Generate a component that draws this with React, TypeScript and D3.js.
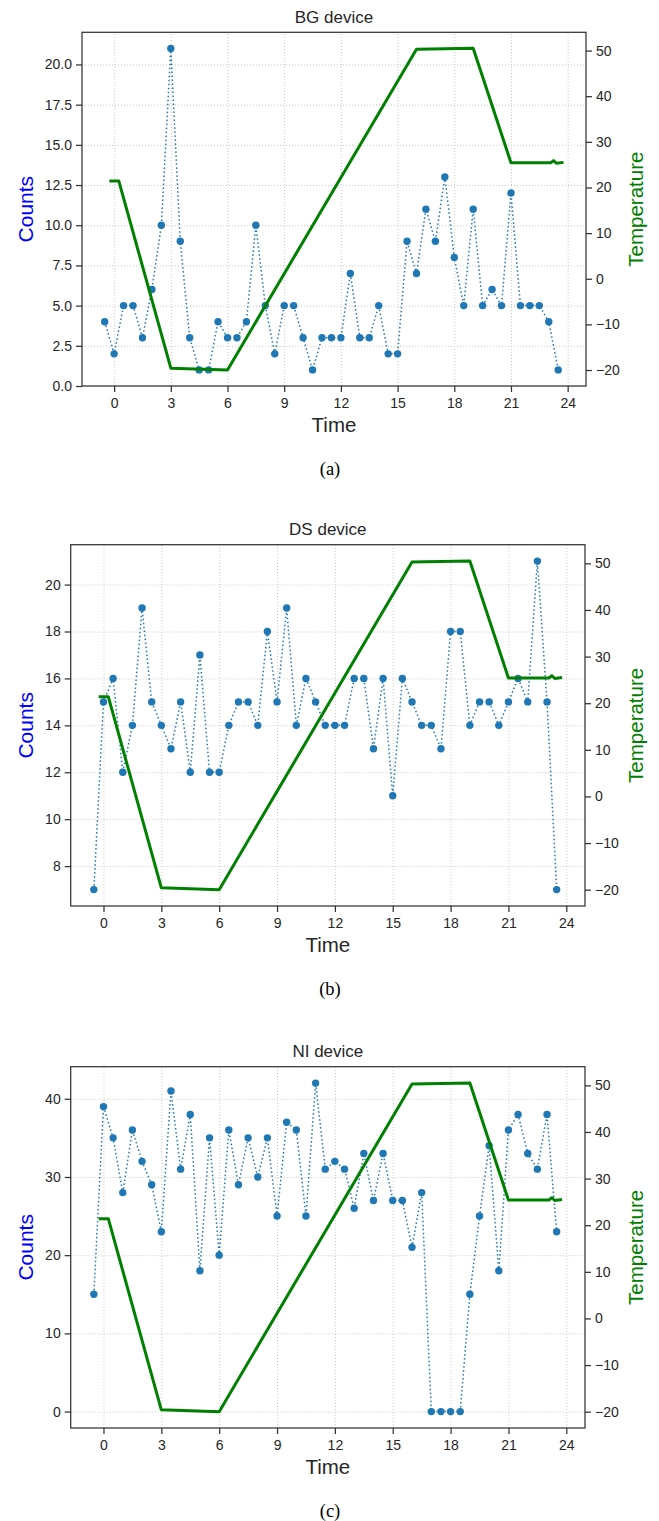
import React, { useEffect, useRef } from 'react'
import * as d3 from 'd3'

// half-hour sampling of the counts
const hours = [
  -0.5, 0, 0.5, 1, 1.5, 2, 2.5, 3, 3.5, 4, 4.5, 5, 5.5, 6, 6.5, 7, 7.5, 8, 8.5, 9, 9.5,
  10, 10.5, 11, 11.5, 12, 12.5, 13, 13.5, 14, 14.5, 15, 15.5, 16, 16.5, 17, 17.5, 18,
  18.5, 19, 19.5, 20, 20.5, 21, 21.5, 22, 22.5, 23, 23.5,
]

const bgCounts = [
  4, 2, 5, 5, 3, 6, 10, 21, 9, 3, 1, 1, 4, 3, 3, 4, 10, 5, 2, 5, 5, 3, 1, 3, 3, 3, 7, 3,
  3, 5, 2, 2, 9, 7, 11, 9, 13, 8, 5, 11, 5, 6, 5, 12, 5, 5, 5, 4, 1,
]
const dsCounts = [
  7, 15, 16, 12, 14, 19, 15, 14, 13, 15, 12, 17, 12, 12, 14, 15, 15, 14, 18, 15, 19, 14,
  16, 15, 14, 14, 14, 16, 16, 13, 16, 11, 16, 15, 14, 14, 13, 18, 18, 14, 15, 15, 14, 15,
  16, 15, 21, 15, 7,
]
const niCounts = [
  15, 39, 35, 28, 36, 32, 29, 23, 41, 31, 38, 18, 35, 20, 36, 29, 35, 30, 35, 25, 37, 36,
  25, 42, 31, 32, 31, 26, 33, 27, 33, 27, 27, 21, 28, 0, 0, 0, 0, 15, 25, 34, 18, 36, 38,
  33, 31, 38, 23,
]

// chamber temperature profile (same for every device)
const tempHours = [-0.25, 0.25, 3, 6, 16, 19, 21, 23.1, 23.25, 23.4, 23.78]
const tempValues = [21.4, 21.4, -19.6, -20, 50.3, 50.5, 25.4, 25.4, 25.9, 25.3, 25.5]

const timeTicks = [0, 3, 6, 9, 12, 15, 18, 21, 24]
const tempTicks = [-20, -10, 0, 10, 20, 30, 40, 50]
const bgTicks = [0, 2.5, 5, 7.5, 10, 12.5, 15, 17.5, 20]
const dsTicks = [8, 10, 12, 14, 16, 18, 20]
const niTicks = [0, 10, 20, 30, 40]

const titles = ['BG device', 'DS device', 'NI device']
const captions = ['(a)', '(b)', '(c)']

const panels = [
  { title: titles[0], caption: captions[0], counts: bgCounts, ticks: bgTicks, domain: [0, 22], fmt: d3.format('.1f'), left: 82, right: 586, top: 32.3, bottom: 386 },
  { title: titles[1], caption: captions[1], counts: dsCounts, ticks: dsTicks, domain: [6.3, 21.7], fmt: d3.format('d'), left: 70.7, right: 585, top: 544.7, bottom: 906 },
  { title: titles[2], caption: captions[2], counts: niCounts, ticks: niTicks, domain: [-2.1, 44.1], fmt: d3.format('d'), left: 70.7, right: 585, top: 1066.7, bottom: 1428 },
]

const W = 659
const H = 1521
const SANS = '"Liberation Sans", Arial, sans-serif'
const INK = '#262626'

function styleAxis(g: any) {
  g.attr('font-family', SANS).attr('font-size', 14).attr('color', INK)
  g.select('.domain').remove()
  g.selectAll('.tick line').attr('stroke', '#333').attr('stroke-width', 1.25)
}

function drawPanel(svg: any, p: any) {
  const x = d3.scaleLinear().domain([-1.7, 24.97]).range([p.left, p.right])
  const y = d3.scaleLinear().domain(p.domain).range([p.bottom, p.top])
  const yT = d3.scaleLinear().domain([-23.5, 54]).range([p.bottom, p.top])
  const h = p.bottom - p.top
  const w = p.right - p.left

  const g = svg.append('g')

  // vertical gridlines
  g.append('g')
    .attr('transform', `translate(0,${p.bottom})`)
    .call(d3.axisBottom(x).tickValues(timeTicks).tickSize(-h).tickFormat(() => ''))
    .call((s: any) => s.select('.domain').remove())
    .selectAll('line')
    .attr('stroke', '#c8c8c8')
    .attr('stroke-width', 1)
    .attr('stroke-dasharray', '1 2')

  // horizontal gridlines (counts axis only)
  g.append('g')
    .attr('transform', `translate(${p.left},0)`)
    .call(d3.axisLeft(y).tickValues(p.ticks).tickSize(-w).tickFormat(() => ''))
    .call((s: any) => s.select('.domain').remove())
    .selectAll('line')
    .attr('stroke', '#c8c8c8')
    .attr('stroke-width', 1)
    .attr('stroke-dasharray', '1 2')

  // counts: dotted line + markers
  const countLine = d3.line<number>()
    .x((_, i) => x(hours[i]))
    .y((d) => y(d))
  g.append('path')
    .datum(p.counts)
    .attr('d', countLine)
    .attr('fill', 'none')
    .attr('stroke', '#1f77b4')
    .attr('stroke-width', 1.5)
    .attr('stroke-dasharray', '1.5 2.5')

  g.selectAll('.dot')
    .data(p.counts)
    .enter().append('circle')
    .attr('class', 'dot')
    .attr('cx', (_: number, i: number) => x(hours[i]))
    .attr('cy', (d: number) => y(d))
    .attr('r', 3.7)
    .attr('fill', '#1f77b4')

  // temperature on the twin axis
  const tempLine = d3.line<number>()
    .x((_, i) => x(tempHours[i]))
    .y((d) => yT(d))
  g.append('path')
    .datum(tempValues)
    .attr('d', tempLine)
    .attr('fill', 'none')
    .attr('stroke', '#008000')
    .attr('stroke-width', 3)
    .attr('stroke-linejoin', 'round')

  // frame
  g.append('rect')
    .attr('x', p.left)
    .attr('y', p.top)
    .attr('width', w)
    .attr('height', h)
    .attr('fill', 'none')
    .attr('stroke', '#333')
    .attr('stroke-width', 1.25)

  // axes
  g.append('g')
    .attr('transform', `translate(0,${p.bottom})`)
    .call(d3.axisBottom(x).tickValues(timeTicks).tickSize(6).tickPadding(6.5).tickFormat(d3.format('d')))
    .call(styleAxis)

  g.append('g')
    .attr('transform', `translate(${p.left},0)`)
    .call(d3.axisLeft(y).tickValues(p.ticks).tickSize(6).tickPadding(4).tickFormat(p.fmt))
    .call(styleAxis)

  g.append('g')
    .attr('transform', `translate(${p.right},0)`)
    .call(d3.axisRight(yT).tickValues(tempTicks).tickSize(6).tickPadding(4)
      .tickFormat((d: any) => (d < 0 ? '\u2212' + Math.abs(d) : String(d))))
    .call(styleAxis)

  // texts
  g.append('text')
    .attr('x', (p.left + p.right) / 2)
    .attr('y', p.top - 9.6)
    .attr('text-anchor', 'middle')
    .attr('font-family', SANS)
    .attr('font-size', 17)
    .attr('fill', INK)
    .text(p.title)

  g.append('text')
    .attr('x', (p.left + p.right) / 2)
    .attr('y', p.bottom + 45.7)
    .attr('text-anchor', 'middle')
    .attr('font-family', SANS)
    .attr('font-size', 20.5)
    .attr('fill', INK)
    .text('Time')

  g.append('text')
    .attr('transform', `translate(25,${(p.top + p.bottom) / 2}) rotate(-90)`)
    .attr('text-anchor', 'middle')
    .attr('dominant-baseline', 'central')
    .attr('font-family', SANS)
    .attr('font-size', 21)
    .attr('fill', '#0000ff')
    .text('Counts')

  g.append('text')
    .attr('transform', `translate(635,${(p.top + p.bottom) / 2}) rotate(-90)`)
    .attr('text-anchor', 'middle')
    .attr('dominant-baseline', 'central')
    .attr('font-family', SANS)
    .attr('font-size', 20.5)
    .attr('fill', '#008000')
    .text('Temperature')

  g.append('text')
    .attr('x', 330)
    .attr('y', p.bottom + 88.5)
    .attr('text-anchor', 'middle')
    .attr('font-family', '"Liberation Serif", "Times New Roman", serif')
    .attr('font-size', 18.5)
    .attr('fill', '#000')
    .text(p.caption)
}

export default function App() {
  const ref = useRef<SVGSVGElement>(null)

  useEffect(() => {
    const svg = d3.select(ref.current)
    svg.selectAll('*').remove()
    panels.forEach((p) => drawPanel(svg, p))
  }, [])

  return (
    <svg
      ref={ref}
      width={W}
      height={H}
      viewBox={`0 0 ${W} ${H}`}
      style={{ position: 'absolute', left: 0, top: 0, background: '#fff', display: 'block' }}
    />
  )
}
